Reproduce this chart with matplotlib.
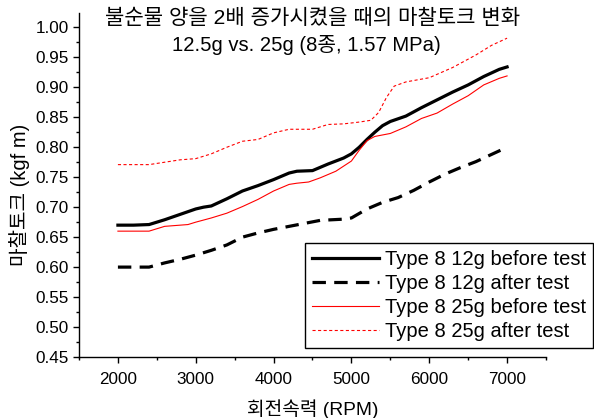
import matplotlib
matplotlib.use("Agg")
import matplotlib.pyplot as plt
from matplotlib.legend_handler import HandlerLine2D
from matplotlib.ticker import MultipleLocator

plt.rcParams['font.family'] = ['Liberation Sans', 'Noto Sans CJK KR']

# Friction torque (kgf m) versus rotational speed (RPM)
rpm_12_before = [2000, 2200, 2400, 2600, 2800, 3000, 3100, 3200, 3400, 3600, 3800, 4000,
                 4200, 4300, 4500, 4700, 4900, 5000, 5100, 5200, 5300, 5400, 5500, 5700,
                 5900, 6100, 6300, 6500, 6700, 6900, 7000]
torque_12_before = [0.670, 0.670, 0.671, 0.679, 0.688, 0.697, 0.700, 0.702, 0.714, 0.727, 0.736, 0.746,
                    0.757, 0.760, 0.761, 0.772, 0.782, 0.789, 0.800, 0.813, 0.825, 0.836, 0.843, 0.852,
                    0.866, 0.879, 0.892, 0.904, 0.918, 0.930, 0.934]

rpm_12_after = [2000, 2400, 2600, 2800, 3000, 3200, 3400, 3600, 3800, 4000, 4200, 4400, 4600,
                4900, 5000, 5200, 5400, 5600, 5800, 6000, 6200, 6400, 6600, 6800, 7000]
torque_12_after = [0.600, 0.600, 0.607, 0.613, 0.620, 0.628, 0.637, 0.650, 0.657, 0.663, 0.668, 0.673, 0.678,
                   0.680, 0.682, 0.697, 0.708, 0.716, 0.728, 0.742, 0.755, 0.766, 0.776, 0.788, 0.800]

rpm_25_before = [2000, 2400, 2600, 2900, 3000, 3200, 3400, 3600, 3800, 4000, 4200, 4300, 4450, 4600,
                 4800, 5000, 5100, 5200, 5300, 5500, 5700, 5900, 6100, 6300, 6500, 6700, 6900, 7000]
torque_25_before = [0.660, 0.660, 0.668, 0.671, 0.675, 0.682, 0.690, 0.701, 0.713, 0.727, 0.738, 0.740, 0.742, 0.749,
                    0.760, 0.777, 0.795, 0.811, 0.818, 0.823, 0.834, 0.848, 0.857, 0.872, 0.886, 0.904, 0.915, 0.919]

rpm_25_after = [2000, 2400, 2600, 2800, 3000, 3200, 3400, 3600, 3800, 4000, 4200, 4500, 4700,
                4900, 5100, 5250, 5350, 5450, 5550, 5700, 6000, 6300, 6600, 6800, 7000]
torque_25_after = [0.771, 0.771, 0.775, 0.779, 0.781, 0.789, 0.800, 0.810, 0.813, 0.824, 0.830, 0.830, 0.838,
                   0.839, 0.842, 0.845, 0.858, 0.883, 0.902, 0.909, 0.916, 0.933, 0.954, 0.970, 0.982]

labels = ["Type 8 12g before test", "Type 8 12g after test",
          "Type 8 25g before test", "Type 8 25g after test"]

title_line1 = "불순물 양을 2배 증가시켰을 때의 마찰토크 변화"
title_line2 = "12.5g vs. 25g (8종, 1.57 MPa)"
x_label = "회전속력 (RPM)"
y_label = "마찰토크 (kgf m)"

W, H = 594, 418
fig = plt.figure(figsize=(W / 100, H / 100), dpi=100)
ax = fig.add_axes([79 / W, 1 - 357 / H, (546 - 79) / W, (357 - 12.7) / H])

l1, = ax.plot(rpm_12_before, torque_12_before, color='black', lw=2.3)
l2, = ax.plot(rpm_12_after, torque_12_after, color='black', lw=2.3, linestyle=(0, (4.2, 2.6)))
l3, = ax.plot(rpm_25_before, torque_25_before, color='red', lw=0.8)
l4, = ax.plot(rpm_25_after, torque_25_after, color='red', lw=0.8, linestyle=(0, (2.8, 2.2)))

ax.set_xlim(1500, 7500)
ax.set_ylim(0.45, 1.0245)
ax.xaxis.set_major_locator(MultipleLocator(1000))
ax.xaxis.set_minor_locator(MultipleLocator(500))
ax.yaxis.set_major_locator(MultipleLocator(0.05))
ax.yaxis.set_minor_locator(MultipleLocator(0.025))
ax.set_xticks([2000, 3000, 4000, 5000, 6000, 7000])
ax.yaxis.set_major_formatter(plt.FormatStrFormatter('%.2f'))

for side in ('top', 'right'):
    ax.spines[side].set_visible(False)
for side in ('left', 'bottom'):
    ax.spines[side].set_linewidth(1.0)

ax.tick_params(which='major', direction='out', length=4.5, width=1.0, labelsize=12.3)
ax.tick_params(which='minor', direction='out', length=2.5, width=1.0)
ax.tick_params(axis='x', which='major', pad=6)
ax.tick_params(axis='y', which='major', pad=3)

fig.text(20 / W, 1 - 195 / H, y_label, rotation=90, ha='center', va='center', fontsize=14.5)
fig.text(313 / W, 1 - 409 / H, x_label, ha='center', va='center', fontsize=13.8)

fig.text(313 / W, 1 - 18 / H, title_line1, ha='center', va='center', fontsize=15.2)
fig.text(306 / W, 1 - 45 / H, title_line2, ha='center', va='center', fontsize=14.6)


class InsetLineHandler(HandlerLine2D):
    """Legend line drawn in the right part of its handle box."""

    def create_artists(self, legend, orig_handle, xdescent, ydescent, width, height, fontsize, trans):
        artists = super().create_artists(legend, orig_handle, xdescent, ydescent, width, height,
                                         fontsize, trans)
        for a in artists:
            xd = a.get_xdata()
            if len(xd) == 2:
                a.set_xdata([-xdescent + 0.30 * width, -xdescent + width])
        return artists


leg = fig.legend([l1, l2, l3, l4], labels, loc='upper left',
                 bbox_to_anchor=(305 / W, 1 - 243 / H), bbox_transform=fig.transFigure,
                 fontsize=14.5, frameon=True, fancybox=False, shadow=False,
                 borderpad=0.35, borderaxespad=0, handlelength=3.3, handletextpad=0.3,
                 labelspacing=0.24,
                 handler_map={l: InsetLineHandler() for l in (l1, l2, l3, l4)})
leg.get_frame().set_edgecolor('black')
leg.get_frame().set_linewidth(1.0)
leg.get_frame().set_alpha(None)
leg.get_frame().set_facecolor('white')

fig.savefig("out.png", dpi=100)
